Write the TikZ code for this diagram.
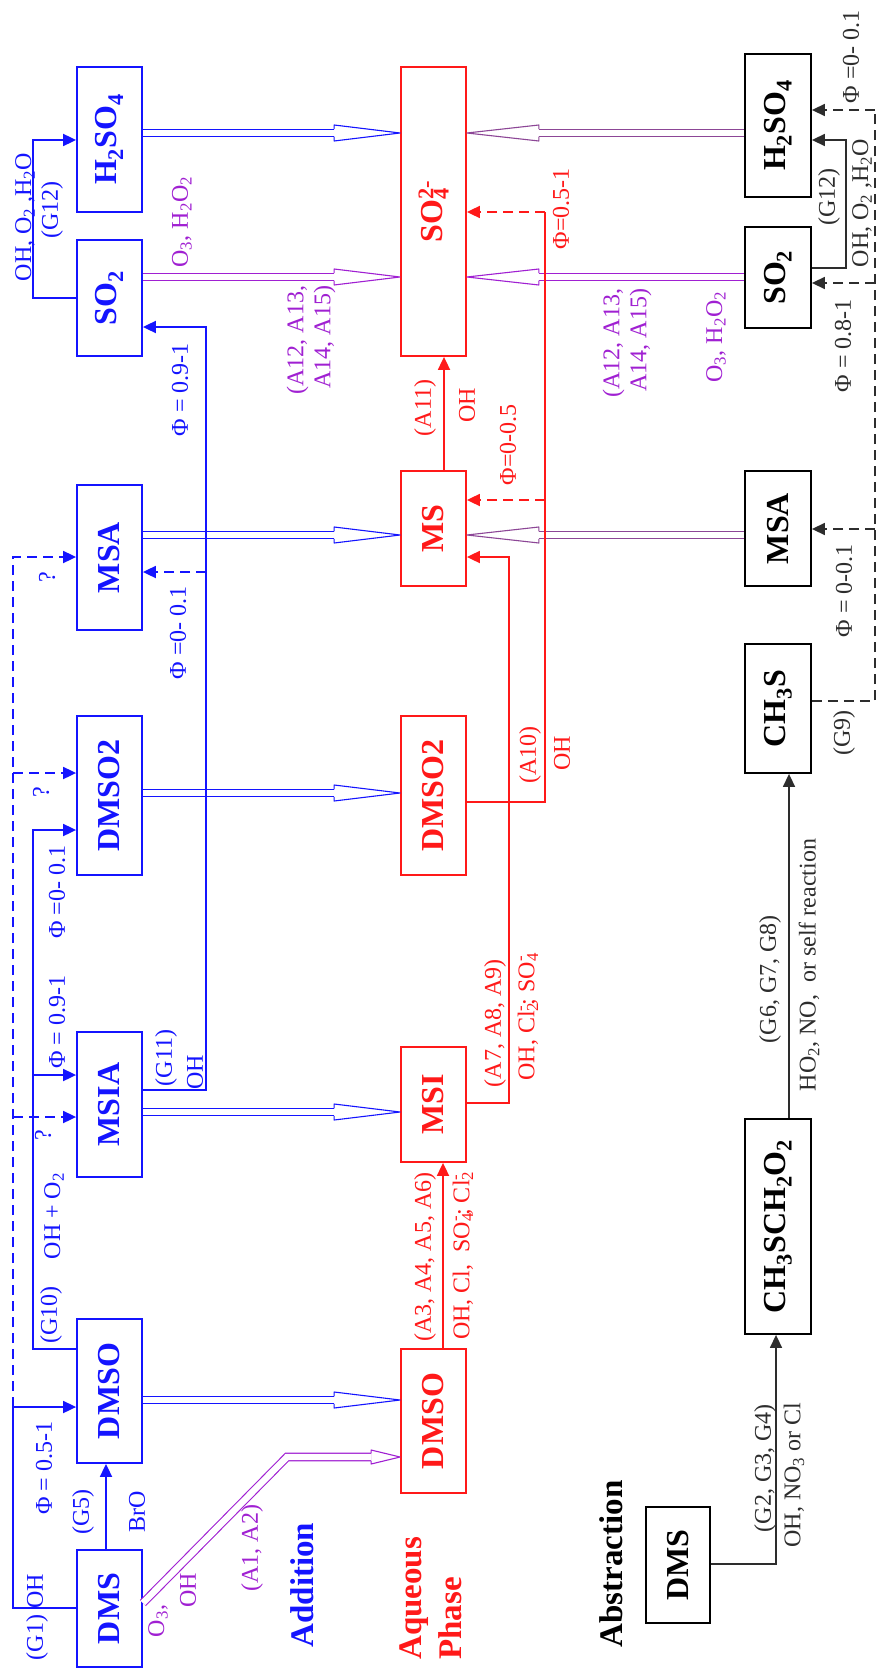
\documentclass[tikz,border=0pt]{standalone}
\usepackage{fontspec}
\setmainfont{Liberation Serif}
\usepackage{graphicx}
\usetikzlibrary{arrows.meta,calc}

\definecolor{gasblue}{RGB}{20,20,255}
\definecolor{aqred}{RGB}{255,25,25}
\definecolor{transp}{RGB}{160,32,210}
\definecolor{plum}{RGB}{140,70,150}
\definecolor{absgray}{RGB}{45,45,45}

% subscript and superscript stacked on one another
\newcommand\subsup[2]{\rlap{\textsubscript{#1}}\textsuperscript{#2}}

\tikzset{
  pbox/.style={draw=#1, line width=1.8pt, inner sep=0pt, text=#1,
               font=\fontsize{32}{34}\selectfont\bfseries},
  lab/.style={rotate=90, inner sep=0pt, text=#1, align=center,
              font=\fontsize{24}{27}\selectfont},
  sectlab/.style={rotate=90, inner sep=0pt, text=#1,
              font=\fontsize{33}{40}\selectfont\bfseries},
  conn/.style={draw=#1, line width=1.8pt},
  arr/.style={-{Triangle[length=13pt,width=12pt]}},
  brk/.style={dash pattern=on 10pt off 6pt},
  dshaft/.style={draw=#1, line width=1.1pt, double=white, double distance=6.4pt},
  hollowhead/.style={draw=#1, line width=1.1pt, line join=round},
}

% species box given by its corners
\newcommand\spbox[7]{%
  \node[pbox=#1, minimum width={(#4-#3)*1pt}, minimum height={(#6-#5)*1pt}]
    (#2) at ({(#3+#4)/2},{(#5+#6)/2}) {\rotatebox{90}{#7}};}

% hollow transfer arrow, pointing right: colour, source, target, y, head length
\newcommand\hollowR[5]{%
  \draw[dshaft=#1] (#2.east |- 0,#4) -- ($(#3.west |- 0,#4)+(-#5,0)$);
  \draw[hollowhead=#1] ($(#3.west |- 0,#4)+(-#5,3.75)$) -- ++(0,4.25)
    -- (#3.west |- 0,#4) -- ($(#3.west |- 0,#4)+(-#5,-8)$) -- ++(0,4.25);}
% hollow transfer arrow, pointing left
\newcommand\hollowL[5]{%
  \draw[dshaft=#1] (#2.west |- 0,#4) -- ($(#3.east |- 0,#4)+(#5,0)$);
  \draw[hollowhead=#1] ($(#3.east |- 0,#4)+(#5,3.75)$) -- ++(0,4.25)
    -- (#3.east |- 0,#4) -- ($(#3.east |- 0,#4)+(#5,-8)$) -- ++(0,4.25);}

\begin{document}
\begin{tikzpicture}[x=1pt,y=-1pt]
\useasboundingbox[fill=white] (0,0) rectangle (877,1669);

% ---------------- gas phase, addition channel ----------------
\spbox{gasblue}{h2so4g}{77}{142}{67}{212}{H\textsubscript{2}SO\textsubscript{4}}
\spbox{gasblue}{so2g}{77}{142}{240}{356}{SO\textsubscript{2}}
\spbox{gasblue}{msag}{77}{142}{485}{630}{MSA}
\spbox{gasblue}{dmso2g}{77}{142}{716}{875}{DMSO2}
\spbox{gasblue}{msiag}{77}{142}{1032}{1177}{MSIA}
\spbox{gasblue}{dmsog}{77}{142}{1319}{1463}{DMSO}
\spbox{gasblue}{dmsg}{77}{142}{1550}{1667}{DMS}

% ---------------- aqueous phase ----------------
\spbox{aqred}{so4}{401}{466}{67}{356}{SO\subsup{4}{2-}}
\spbox{aqred}{ms}{401}{466}{471}{586}{MS}
\spbox{aqred}{dmso2a}{401}{466}{716}{875}{DMSO2}
\spbox{aqred}{msi}{401}{466}{1047}{1162}{MSI}
\spbox{aqred}{dmsoa}{401}{466}{1349}{1493}{DMSO}

% ---------------- gas phase, abstraction channel ----------------
\spbox{black}{h2so4a}{745}{811}{54}{197}{H\textsubscript{2}SO\textsubscript{4}}
\spbox{black}{so2a}{745}{811}{227}{328}{SO\textsubscript{2}}
\spbox{black}{msaa}{745}{811}{471}{586}{MSA}
\spbox{black}{ch3s}{745}{811}{644}{773}{CH\textsubscript{3}S}
\spbox{black}{ch3sch2o2}{745}{811}{1119}{1334}{CH\textsubscript{3}SCH\textsubscript{2}O\textsubscript{2}}
\spbox{black}{dmsab}{646}{710}{1507}{1623}{DMS}

% ---------------- phase transfer (hollow arrows) ----------------
\hollowR{gasblue}{h2so4g}{so4}{133}{66}
\hollowR{transp}{so2g}{so4}{277}{66}
\hollowR{gasblue}{msag}{ms}{535}{66}
\hollowR{gasblue}{dmso2g}{dmso2a}{793}{66}
\hollowR{gasblue}{msiag}{msi}{1112}{66}
\hollowR{gasblue}{dmsog}{dmsoa}{1400}{66}
\hollowL{plum}{h2so4a}{so4}{133}{72}
\hollowL{transp}{so2a}{so4}{277}{72}
\hollowL{plum}{msaa}{ms}{535}{72}
% DMS uptake with O3 / OH oxidation
\draw[dshaft=transp, line join=miter] (dmsg.east |- 0,1603) -- (287,1457) coordinate (dbend)
  -- ($(dmsoa.west |- dbend)+(-29,0)$) coordinate (dbase);
\draw[hollowhead=transp] ($(dbase)+(0,3.75)$) -- ++(0,3.25) -- (dmsoa.west |- dbend)
  -- ($(dbase)+(0,-7)$) -- ++(0,3.25);

% ---------------- gas phase reactions (addition) ----------------
\draw[conn=gasblue] (dmsg.west |- 0,1608) -- (13,1608) -- (13,1407) coordinate (g1mid);
\draw[conn=gasblue, arr] (g1mid) -- (dmsog.west |- g1mid);
\draw[conn=gasblue, brk, arr] (g1mid) -- (13,557) coordinate (g1top) -- (msag.west |- g1top);
\draw[conn=gasblue, brk, arr] (13,1117) coordinate (g1q1) -- (msiag.west |- g1q1);
\draw[conn=gasblue, brk, arr] (13,773) coordinate (g1q2) -- (dmso2g.west |- g1q2);

\draw[conn=gasblue, arr] (dmsg.north -| 106,0) -- (dmsog.south -| 106,0);

\draw[conn=gasblue, arr] (dmsog.west |- 0,1349) -- (33,1349) -- (33,830) coordinate (g10top)
  -- (dmso2g.west |- g10top);
\draw[conn=gasblue, arr] (33,1075) coordinate (g10b) -- (msiag.west |- g10b);

\draw[conn=gasblue, arr] (msiag.east |- 0,1090) -- (206,1090) -- (206,327) coordinate (g11top)
  -- (so2g.east |- g11top);
\draw[conn=gasblue, brk, arr] (206,572) coordinate (g11b) -- (msag.east |- g11b);

\draw[conn=gasblue, arr] (so2g.west |- 0,298) -- (33,298) -- (33,140) coordinate (g12top)
  -- (h2so4g.west |- g12top);

% ---------------- aqueous reactions ----------------
\draw[conn=aqred, arr] (dmsoa.north -| 443,0) -- (msi.south -| 443,0);
\draw[conn=aqred, arr] (msi.east |- 0,1103) -- (509,1103) -- (509,557) coordinate (a79)
  -- (ms.east |- a79);
\draw[conn=aqred] (dmso2a.east |- 0,802) -- (545,802) -- (545,212) coordinate (a10top);
\draw[conn=aqred, brk, arr] (545,500) coordinate (a10b) -- (ms.east |- a10b);
\draw[conn=aqred, brk, arr] (a10top) -- (so4.east |- a10top);
\draw[conn=aqred, arr] (ms.north -| 444,0) -- (so4.south -| 444,0);

% ---------------- gas phase reactions (abstraction) ----------------
\draw[conn=absgray, line width=1.5pt, arr] (dmsab.east |- 0,1564) -- (776,1564)
  -- (ch3sch2o2.south -| 776,0);
\draw[conn=absgray, line width=1.5pt, arr] (ch3sch2o2.north -| 789,0) -- (ch3s.south -| 789,0);
\draw[conn=absgray, line width=1.5pt, brk] (ch3s.east |- 0,701) -- (875,701) -- (875,110) coordinate (g9top);
\draw[conn=absgray, line width=1.5pt, brk, arr] (g9top) -- (h2so4a.east |- g9top);
\draw[conn=absgray, line width=1.5pt, brk, arr] (875,529) coordinate (g9a) -- (msaa.east |- g9a);
\draw[conn=absgray, line width=1.5pt, brk, arr] (875,283) coordinate (g9b) -- (so2a.east |- g9b);
\draw[conn=absgray, line width=1.5pt, arr] (so2a.east |- 0,268) -- (846,268) -- (846,140) coordinate (g12a)
  -- (h2so4a.east |- g12a);

% ---------------- labels: addition ----------------
\node[lab=gasblue] (tG1) at (37,1617) {(G1) OH};
\node[lab=gasblue] (tG5) at (83,1512) {(G5)};
\node[lab=gasblue] (tBrO) at (137,1512) {BrO};
\node[lab=gasblue] (tP1) at (44,1468) {Φ = 0.5-1};
\node[lab=gasblue] (tG10) at (51,1315) {(G10)};
\node[lab=gasblue] (tOHO2) at (54,1216) {OH + O\textsubscript{2}};
\node[lab=gasblue] (tq1) at (43,1135) {?};
\node[lab=gasblue] (tP2) at (57,1022) {Φ = 0.9-1};
\node[lab=gasblue] (tP3) at (57,892) {Φ =0- 0.1};
\node[lab=gasblue] (tq2) at (41,792) {?};
\node[lab=gasblue] (tq3) at (47,577) {?};
\node[lab=gasblue] (tG11) at (166,1058) {(G11)};
\node[lab=gasblue] (tOHg11) at (195,1072) {OH};
\node[lab=gasblue] (tP4) at (178,633) {Φ =0- 0.1};
\node[lab=gasblue] (tP5) at (180,390) {Φ = 0.9-1};
\node[lab=gasblue] (tG12) at (52,210) {(G12)};
\node[lab=gasblue] (tG12r) at (25,217) {OH, O\textsubscript{2} ,H\textsubscript{2}O};
\node[sectlab=gasblue] (tAdd) at (302,1585) {Addition};

% ---------------- labels: transfer ----------------
\node[lab=transp] (tO3a) at (158,1621) {O\textsubscript{3},};
\node[lab=transp] (tOHa) at (188,1590) {OH};
\node[lab=transp] (tA12) at (252,1548) {(A1, A2)};
\node[lab=transp] (tO3g) at (182,222) {O\textsubscript{3}, H\textsubscript{2}O\textsubscript{2}};
\node[lab=transp, align=left] (tAg) at (311,340) {(A12, A13,\\\ A14, A15)};
\node[lab=transp, align=left] (tAa) at (627,343) {(A12, A13,\\\ A14, A15)};
\node[lab=transp] (tO3b) at (716,337) {O\textsubscript{3}, H\textsubscript{2}O\textsubscript{2}};

% ---------------- labels: aqueous ----------------
\node[lab=aqred] (tA36) at (425,1257) {(A3, A4, A5, A6)};
\node[lab=aqred] (tA36r) at (463,1257) {OH, Cl,\ \ SO\subsup{4}{-}; Cl\subsup{2}{-}};
\node[lab=aqred] (tA79) at (495,1023) {(A7, A8, A9)};
\node[lab=aqred] (tA79r) at (528,1018) {OH, Cl\subsup{2}{-}; SO\subsup{4}{-}};
\node[lab=aqred] (tA10) at (530,755) {(A10)};
\node[lab=aqred] (tA10r) at (562,753) {OH};
\node[lab=aqred] (tP6) at (508,445) {Φ=0-0.5};
\node[lab=aqred] (tP7) at (561,209) {Φ=0.5-1};
\node[lab=aqred] (tA11) at (425,408) {(A11)};
\node[lab=aqred] (tA11r) at (467,405) {OH};
\node[sectlab=aqred, align=left, anchor=west] (tAq) at (431,1660) {Aqueous\\Phase};

% ---------------- labels: abstraction ----------------
\node[sectlab=black] (tAbs) at (611,1564) {Abstraction};
\node[lab=absgray] (tG24) at (765,1468) {(G2, G3, G4)};
\node[lab=absgray] (tG24r) at (794,1475) {OH, NO\textsubscript{3} or Cl};
\node[lab=absgray] (tG68) at (770,979) {(G6, G7, G8)};
\node[lab=absgray] (tG68r) at (809,965) {HO\textsubscript{2}, NO,\ \ or self reaction};
\node[lab=absgray] (tG9) at (844,733) {(G9)};
\node[lab=absgray] (tP8) at (844,591) {Φ = 0-0.1};
\node[lab=absgray] (tP9) at (843,346) {Φ = 0.8-1};
\node[lab=absgray] (tP10) at (851,57) {Φ =0- 0.1};
\node[lab=absgray] (tG12a) at (829,197) {(G12)};
\node[lab=absgray] (tG12ar) at (862,203) {OH, O\textsubscript{2} ,H\textsubscript{2}O};
\end{tikzpicture}
\end{document}
